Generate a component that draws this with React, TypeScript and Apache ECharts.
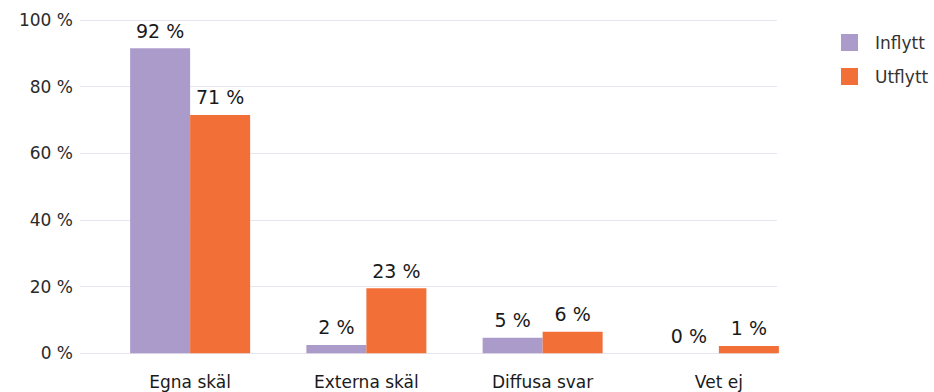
import React, { useEffect, useRef } from "react";
import * as echarts from "echarts";

const categories = ["Egna skäl", "Externa skäl", "Diffusa svar", "Vet ej"];
const seriesNames = ["Inflytt", "Utflytt"];
const inflyttValues = [91.5, 2.5, 4.7, 0];
const utflyttValues = [71.5, 19.5, 6.5, 2.2];
const inflyttLabels = ["92 %", "2 %", "5 %", "0 %"];
const utflyttLabels = ["71 %", "23 %", "6 %", "1 %"];
const yTicks = [0, 20, 40, 60, 80, 100];

const PURPLE = "#ab9bcb";
const ORANGE = "#f36f38";
const FONT = "'DejaVu Sans', sans-serif";

export default function App() {
  const ref = useRef<HTMLDivElement>(null);
  useEffect(() => {
    document.body.style.margin = "0";
    const chart = echarts.init(ref.current!, null, { renderer: "svg" });
    const labelStyle = {
      show: true,
      position: "top" as const,
      distance: 8,
      fontSize: 19,
      fontFamily: FONT,
      color: "#1a1a1a",
    };
    chart.setOption({
      animation: false,
      grid: [
        { left: 80, right: 157, top: 20, bottom: 38.7 },
        { left: 102, right: 127, top: 20, bottom: 38.7 },
      ],
      legend: {
        orient: "vertical",
        left: 836,
        top: 29,
        itemWidth: 17,
        itemHeight: 17,
        itemGap: 17,
        icon: "rect",
        data: seriesNames,
        textStyle: { fontFamily: FONT, fontSize: 17, color: "#333", padding: [0, 0, 0, 12] },
      },
      xAxis: [
        { type: "category", gridIndex: 0, data: categories, show: false },
        {
          type: "category",
          gridIndex: 1,
          data: categories,
          axisLine: { show: false },
          axisTick: { show: false },
          axisLabel: { fontSize: 17, fontFamily: FONT, color: "#1a1a1a", margin: 20 },
        },
      ],
      yAxis: [
        {
          type: "value",
          gridIndex: 0,
          min: yTicks[0],
          max: yTicks[yTicks.length - 1],
          interval: 20,
          axisLine: { show: false },
          axisTick: { show: false },
          axisLabel: { formatter: "{value} %", fontSize: 17, fontFamily: FONT, color: "#2a2a2a", margin: 7 },
          splitLine: { lineStyle: { color: "#e6e6ee", width: 1 } },
        },
        {
          type: "value",
          gridIndex: 1,
          min: 0,
          max: 100,
          interval: 20,
          show: false,
          splitLine: { show: false },
        },
      ],
      series: [
        {
          name: seriesNames[0],
          type: "bar",
          xAxisIndex: 1,
          yAxisIndex: 1,
          data: inflyttValues,
          barWidth: 60,
          barGap: "0%",
          itemStyle: { color: PURPLE },
          label: { ...labelStyle, formatter: (p: any) => inflyttLabels[p.dataIndex] },
        },
        {
          name: seriesNames[1],
          type: "bar",
          xAxisIndex: 1,
          yAxisIndex: 1,
          data: utflyttValues,
          barWidth: 60,
          barGap: "0%",
          itemStyle: { color: ORANGE },
          label: { ...labelStyle, formatter: (p: any) => utflyttLabels[p.dataIndex] },
        },
      ],
    });
    return () => chart.dispose();
  }, []);
  return <div ref={ref} style={{ width: 934, height: 392 }} />;
}
